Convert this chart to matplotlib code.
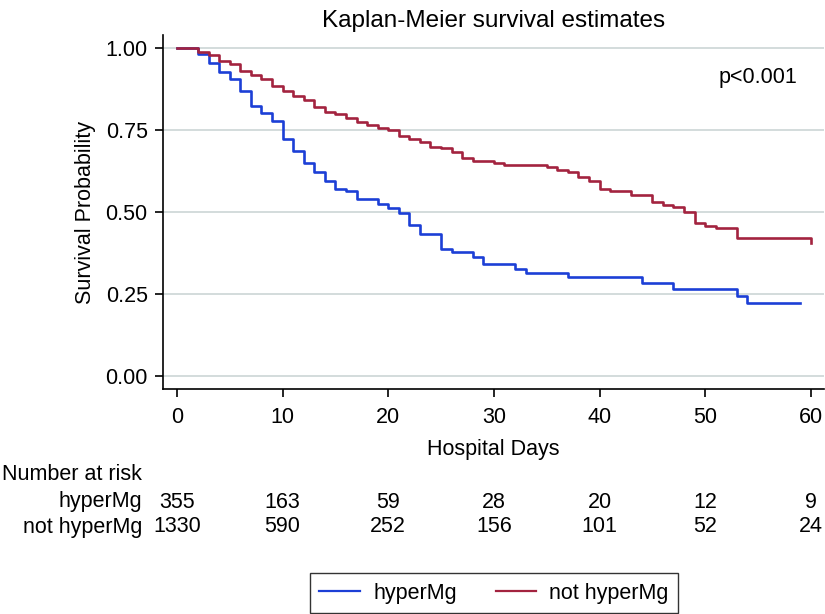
import matplotlib
matplotlib.use("Agg")
import matplotlib.pyplot as plt
from matplotlib.transforms import blended_transform_factory

plt.rcParams['font.family'] = ['Liberation Sans', 'DejaVu Sans']

# ---- data ----
hyper_t = [0, 2, 3, 4, 5, 6, 7, 8, 9, 10, 11, 12, 13, 14, 15, 16, 17, 19, 20, 21, 22, 23,
           25, 26, 28, 29, 32, 33, 37, 44, 47, 53, 54, 59]
hyper_s = [1.0, 0.982, 0.955, 0.928, 0.905, 0.869, 0.822, 0.803, 0.778, 0.723, 0.686, 0.648,
           0.621, 0.595, 0.569, 0.563, 0.540, 0.523, 0.513, 0.497, 0.461, 0.433, 0.388, 0.377,
           0.364, 0.341, 0.326, 0.315, 0.303, 0.283, 0.265, 0.245, 0.222, 0.222]

nothyper_t = [0, 2, 3, 4, 5, 6, 7, 8, 9, 10, 11, 12, 13, 14, 15, 16, 17, 18, 19, 20, 21, 22,
              23, 24, 25, 26, 27, 28, 30, 31, 35, 36, 37, 38, 39, 40, 41, 43, 45, 46, 47, 48,
              49, 50, 51, 53, 60]
nothyper_s = [1.0, 0.987, 0.979, 0.961, 0.951, 0.929, 0.918, 0.905, 0.885, 0.868, 0.855, 0.841,
              0.819, 0.806, 0.799, 0.787, 0.775, 0.765, 0.757, 0.750, 0.732, 0.723, 0.714, 0.697,
              0.694, 0.683, 0.666, 0.656, 0.650, 0.643, 0.638, 0.628, 0.621, 0.606, 0.596, 0.570,
              0.565, 0.552, 0.530, 0.522, 0.516, 0.499, 0.465, 0.458, 0.450, 0.420, 0.405]

risk_times = [0, 10, 20, 30, 40, 50, 60]
risk_hyper = [355, 163, 59, 28, 20, 12, 9]
risk_nothyper = [1330, 590, 252, 156, 101, 52, 24]

group_labels = ["hyperMg", "not hyperMg"]
yticks = [0.0, 0.25, 0.5, 0.75, 1.0]
ytick_labels = ["0.00", "0.25", "0.50", "0.75", "1.00"]

BLUE = '#1c3fd6'
RED = '#a3233f'
GRID = '#ccd5d5'
FS = 15.5

W, H = 825, 614
fig = plt.figure(figsize=(W / 100, H / 100), dpi=100)
ax = fig.add_axes([163 / W, 1 - 389 / H, (824 - 163) / W, (389 - 35) / H])

ax.plot(hyper_t, hyper_s, drawstyle='steps-post', color=BLUE, lw=1.9, label=group_labels[0], zorder=3)
ax.plot(nothyper_t, nothyper_s, drawstyle='steps-post', color=RED, lw=1.9, label=group_labels[1], zorder=3)

ax.set_xlim(-1.32, 61.25)
ax.set_ylim(-0.04, 1.04)
ax.set_xticks(risk_times)
ax.set_yticks(yticks)
ax.set_yticklabels(ytick_labels)
ax.yaxis.grid(True, color=GRID, lw=1.2, zorder=0)
ax.set_axisbelow(True)
for s in ['top', 'right']:
    ax.spines[s].set_visible(False)
for s in ['left', 'bottom']:
    ax.spines[s].set_linewidth(1.2)
ax.tick_params(axis='both', direction='out', length=6, width=1.2, labelsize=FS)
ax.tick_params(axis='y', pad=5)
ax.tick_params(axis='x', pad=7)

ax.set_xlabel("Hospital Days", fontsize=FS, labelpad=8)
ax.set_ylabel("Survival Probability", fontsize=FS, labelpad=7)
ax.set_title("Kaplan-Meier survival estimates", fontsize=17.5, pad=6)

ax.text(797 / W, 1 - 77 / H, "p<0.001", transform=fig.transFigure, ha='right', va='center', fontsize=FS)

# ---- number at risk table ----
fig.text(2 / W, 1 - 475 / H, "Number at risk", ha='left', va='center', fontsize=FS)
fig.text(142 / W, 1 - 502 / H, group_labels[0], ha='right', va='center', fontsize=FS)
fig.text(142 / W, 1 - 527 / H, group_labels[1], ha='right', va='center', fontsize=FS)
tr = blended_transform_factory(ax.transData, fig.transFigure)
for t, a, b in zip(risk_times, risk_hyper, risk_nothyper):
    ax.text(t, 1 - 502 / H, str(a), transform=tr, ha='center', va='center', fontsize=FS, clip_on=False)
    ax.text(t, 1 - 527 / H, str(b), transform=tr, ha='center', va='center', fontsize=FS, clip_on=False)

leg = fig.legend(loc='center', bbox_to_anchor=(494 / W, 1 - 593 / H), ncol=2, fontsize=FS,
                 frameon=True, fancybox=False, edgecolor='black', handlelength=1.9,
                 handletextpad=0.6, columnspacing=1.8, borderpad=0.45, borderaxespad=0)
leg.get_frame().set_linewidth(1.0)
for l in leg.get_lines():
    l.set_linewidth(1.6)

fig.savefig("out.png", dpi=100)
